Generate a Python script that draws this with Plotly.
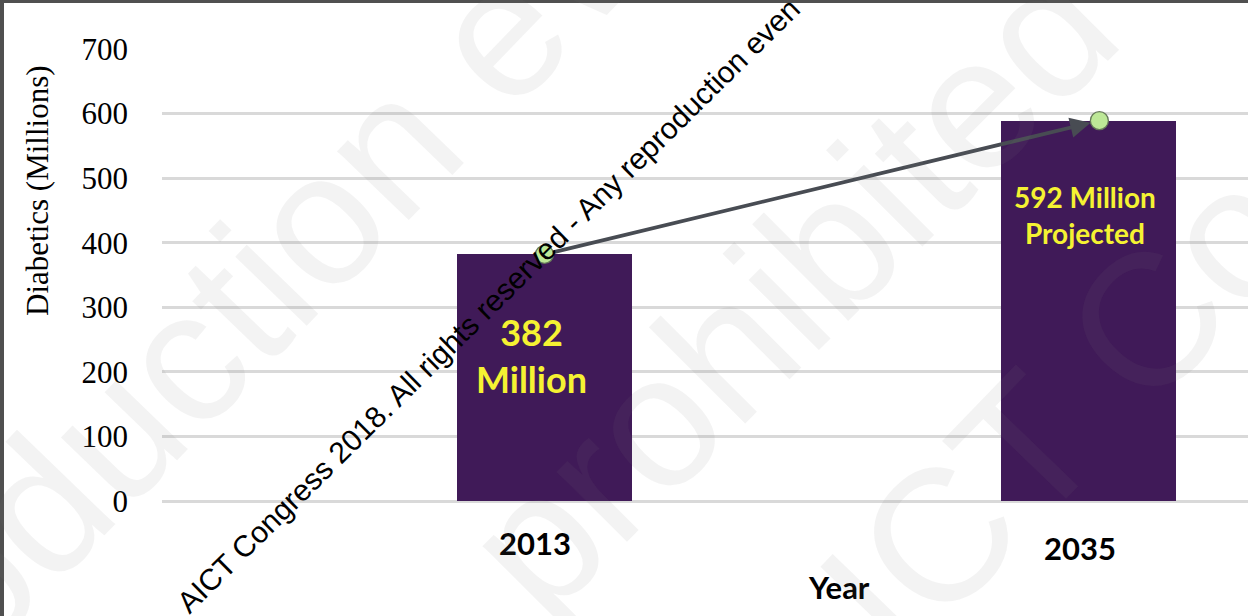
import plotly.graph_objects as go

# ---------------- data ----------------
years = ["2013", "2035"]
diabetics = [382, 589]                       # bar heights (millions)
bar_labels = ["382<br>Million", "592 Million<br>Projected"]
y_ticks = [0, 100, 200, 300, 400, 500, 600, 700]
y_title = "Diabetics (Millions)"
x_title = "Year"
watermark_small = "AICT Congress 2018. All rights reserved - Any reproduction even"
watermark_big = ["reproduction even", "prohibited", "AICT Congress"]

# ---------------- geometry / style ----------------
W, H = 1248, 616
PL, PR, PT, PB = 162, 0, 49, 115
PW, PH = W - PL - PR, H - PT - PB


def fx(px):
    return (px - PL) / PW


def fy(py):
    return (H - PB - py) / PH


x_idx = list(range(len(years)))
X_RANGE = [-0.7031, 1.2932]
BAR_W = 0.3217
BAR_COLOR = "#401a58"
YELLOW = "#f5f232"
MARK_DX = [0.0, 0.02]

fig = go.Figure()

fig.add_trace(go.Bar(
    x=x_idx, y=diabetics, width=BAR_W,
    marker=dict(color=BAR_COLOR, line=dict(width=0)),
    hoverinfo="skip",
))

fig.add_trace(go.Scatter(
    x=[i + d for i, d in zip(x_idx, MARK_DX)], y=diabetics,
    mode="markers",
    marker=dict(size=18, color="#bde897", line=dict(width=1.3, color="#66795a")),
    cliponaxis=False, hoverinfo="skip",
))

annotations = []

# trend arrow between the two markers
annotations.append(dict(
    x=x_idx[1] + MARK_DX[1], y=diabetics[1], xref="x", yref="y",
    ax=x_idx[0] + MARK_DX[0], ay=diabetics[0], axref="x", ayref="y",
    text="", showarrow=True, arrowhead=2, arrowsize=1.1, arrowwidth=3.7,
    arrowcolor="#484c53", standoff=9, startstandoff=8,
))

# labels inside bars
lab_style = [
    dict(size=36, xshift=-13, ypx=355),
    dict(size=28, xshift=-4, ypx=215),
]
for i, (txt, st) in enumerate(zip(bar_labels, lab_style)):
    annotations.append(dict(
        x=x_idx[i], y=fy(st["ypx"]), xref="x", yref="paper",
        text=f"<b>{txt}</b>", showarrow=False, xshift=st["xshift"],
        font=dict(family="Lato", size=st["size"], color=YELLOW),
        xanchor="center", yanchor="middle",
    ))

# x category labels
xl_ypx = [543, 548]
for i, (yr, ypx) in enumerate(zip(years, xl_ypx)):
    annotations.append(dict(
        x=x_idx[i], y=fy(ypx), xref="x", yref="paper", xshift=-9,
        text=f"<b>{yr}</b>", showarrow=False,
        font=dict(family="Lato", size=31, color="black"),
        xanchor="center", yanchor="middle",
    ))

# x axis title
annotations.append(dict(
    x=fx(839), y=fy(587), xref="paper", yref="paper",
    text=f"<b>{x_title}</b>", showarrow=False,
    font=dict(family="Lato", size=31, color="black"),
    xanchor="center", yanchor="middle",
))

# y axis title
annotations.append(dict(
    x=fx(37), y=fy(191), xref="paper", yref="paper",
    text=y_title, showarrow=False, textangle=-90,
    font=dict(family="Liberation Serif", size=31, color="black"),
    xanchor="center", yanchor="middle",
))

# big faint watermark
big_pos = [(222, 320, -46), (790, 287, -45), (1213, 253, -46)]
for txt, (px_, py_, ang) in zip(watermark_big, big_pos):
    annotations.append(dict(
        x=fx(px_), y=fy(py_), xref="paper", yref="paper",
        text=txt, showarrow=False, textangle=ang,
        font=dict(family="Liberation Sans", size=188, color="rgba(120,120,120,0.09)"),
        xanchor="center", yanchor="middle",
    ))

# small diagonal watermark
annotations.append(dict(
    x=fx(488), y=fy(305), xref="paper", yref="paper",
    text=watermark_small, showarrow=False, textangle=-44.6,
    font=dict(family="Liberation Sans", size=30, color="black"),
    xanchor="center", yanchor="middle",
))

# dark frame edges of the screenshot
shapes = [
    dict(type="rect", xref="paper", yref="paper", x0=fx(0), x1=fx(4), y0=fy(H), y1=fy(0),
         fillcolor="#505050", line=dict(width=0), layer="above"),
    dict(type="rect", xref="paper", yref="paper", x0=fx(0), x1=fx(W), y0=fy(3), y1=fy(0),
         fillcolor="#505050", line=dict(width=0), layer="above"),
]

fig.update_layout(
    width=W, height=H,
    margin=dict(l=PL, r=PR, t=PT, b=PB, pad=0),
    paper_bgcolor="white", plot_bgcolor="white",
    showlegend=False,
    bargap=0,
    xaxis=dict(range=X_RANGE, showgrid=False, zeroline=False, showticklabels=False,
               showline=False, fixedrange=True),
    yaxis=dict(range=[0, 700], tickvals=y_ticks, ticktext=[str(v) for v in y_ticks],
               showgrid=True, gridcolor="#d9d9d9", gridwidth=2.5,
               zeroline=True, zerolinecolor="#d9d9d9", zerolinewidth=2.5,
               showline=False, ticks="", ticklabelstandoff=33,
               tickfont=dict(family="Liberation Serif", size=31, color="black"),
               fixedrange=True),
    annotations=annotations,
    shapes=shapes,
)

fig.write_html("out.html")
